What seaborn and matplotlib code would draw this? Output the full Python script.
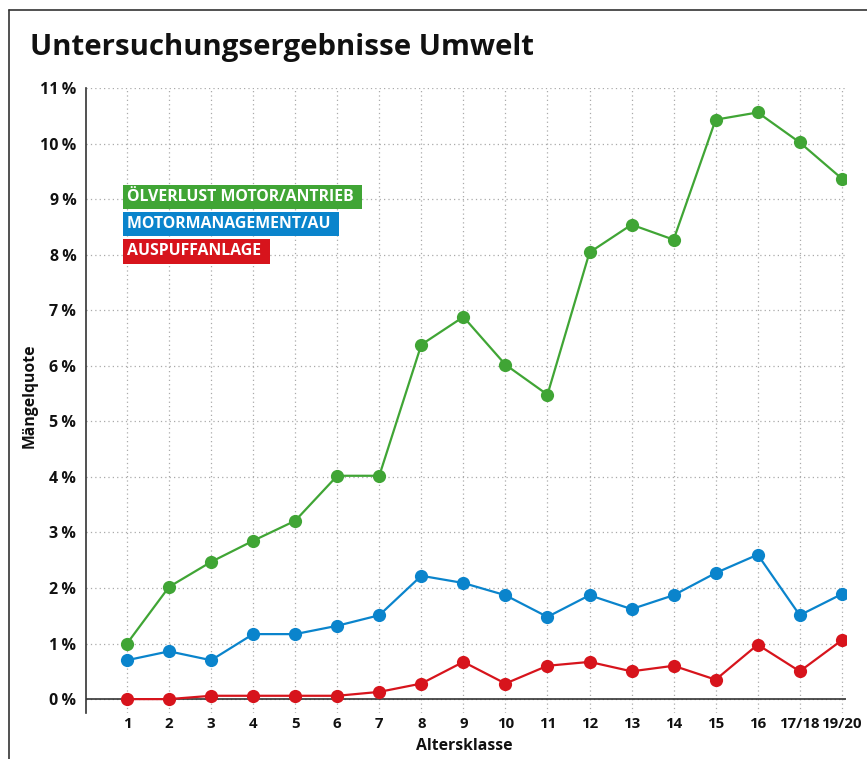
import pandas as pd
import matplotlib.pyplot as plt
import matplotlib.lines as mlines
import seaborn as sns

# Daten (Mängelquote in %)
klassen = ['1', '2', '3', '4', '5', '6', '7', '8', '9', '10', '11', '12', '13', '14', '15', '16', '17/18', '19/20']
oelverlust = [1.0, 2.02, 2.47, 2.85, 3.21, 4.02, 4.02, 6.38, 6.88, 6.02, 5.48, 8.04, 8.54, 8.27, 10.43, 10.56, 10.02, 9.37]
motormanagement = [0.7, 0.86, 0.7, 1.17, 1.17, 1.32, 1.51, 2.22, 2.09, 1.87, 1.48, 1.87, 1.62, 1.87, 2.27, 2.6, 1.51, 1.89]
auspuff = [0.0, 0.0, 0.06, 0.06, 0.06, 0.06, 0.13, 0.28, 0.67, 0.28, 0.6, 0.67, 0.5, 0.6, 0.35, 0.98, 0.5, 1.06]

serien = ['ÖLVERLUST MOTOR/ANTRIEB', 'MOTORMANAGEMENT/AU', 'AUSPUFFANLAGE']
farben = ['#40a535', '#0a84cc', '#d7141c']

df = pd.DataFrame({
    'klasse': klassen * 3,
    'quote': oelverlust + motormanagement + auspuff,
    'serie': [serien[0]] * len(klassen) + [serien[1]] * len(klassen) + [serien[2]] * len(klassen),
})

sns.set_style('white')
plt.rcParams['font.family'] = ['Open Sans', 'DejaVu Sans']
plt.rcParams['font.weight'] = 'bold'

fig = plt.figure(figsize=(8.67, 7.59), dpi=100)
ax = fig.add_axes([86 / 867, 1 - 713 / 759, 760 / 867, 625 / 759])

sns.pointplot(data=df, x='klasse', y='quote', hue='serie', order=klassen, hue_order=serien,
              palette=farben, markers='o', linestyles='-', markersize=9.5, linewidth=1.6,
              markeredgewidth=0, legend=False, ax=ax, errorbar=None)

# Achsen
ax.set_xlim(-0.975, len(klassen) - 1 + 0.1)
ax.set_ylim(-0.25, 11)
ax.set_yticks(range(0, 12))
ax.set_yticklabels([f'{i}\u2009%' for i in range(0, 12)], fontsize=11.5, fontweight='bold')
ax.set_xticks(range(len(klassen)))
ax.set_xticklabels(klassen, fontsize=10.8, fontweight='bold')
ax.set_xlabel('')
ax.set_ylabel('')

ax.grid(True, color='#aaaaaa', linestyle=(0, (1, 2.5)), linewidth=0.9)
ax.set_axisbelow(True)
for s in ['top', 'right', 'bottom']:
    ax.spines[s].set_visible(False)
ax.spines['left'].set_color('#333333')
ax.spines['left'].set_linewidth(1.2)
ax.axhline(0, color='#333333', linewidth=1.2, zorder=1.5)
ax.tick_params(axis='y', direction='out', length=5, width=1.2, color='#333333', pad=2, labelcolor='#111111')
ax.tick_params(axis='x', direction='in', length=10, width=1.2, color='#333333', pad=3, labelcolor='#111111')

# Legende als farbige Kästchen
for i, (name, farbe) in enumerate(zip(serien, farben)):
    ax.text(0.054, 0.8256 - i * 0.0433, name + ' ', transform=ax.transAxes, color='white',
            fontsize=11.4, fontweight='bold', va='center', ha='left',
            bbox=dict(boxstyle='square,pad=0.28', facecolor=farbe, edgecolor='none'))

# Titel und Beschriftungen
fig.text(30 / 867, 1 - 47 / 759, 'Untersuchungsergebnisse Umwelt', fontsize=21.2, fontweight='bold',
         va='center', ha='left', color='#111111')
fig.text(30 / 867, 1 - 396 / 759, 'Mängelquote', rotation=90, fontsize=11.3, fontweight='bold',
         va='center', ha='center', color='#111111')
fig.text(464 / 867, 1 - 746 / 759, 'Altersklasse', fontsize=11.3, fontweight='bold',
         va='center', ha='center', color='#111111')

# Rahmen oben und links
fig.add_artist(mlines.Line2D([9 / 867, 9 / 867], [0, 1 - 10 / 759], color='#333333', linewidth=1.2))
fig.add_artist(mlines.Line2D([9 / 867, 1], [1 - 10 / 759, 1 - 10 / 759], color='#333333', linewidth=1.2))

fig.savefig('out.png', dpi=100)
